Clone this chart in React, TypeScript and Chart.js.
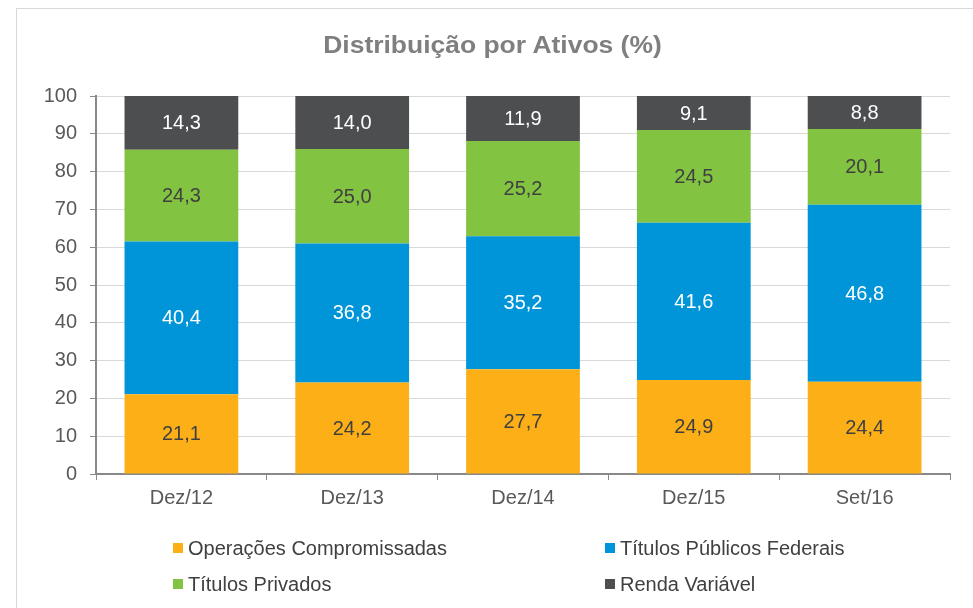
import React, { useEffect, useRef } from "react";
import { Chart, registerables } from "chart.js";

Chart.register(...registerables);

const categories = ["Dez/12", "Dez/13", "Dez/14", "Dez/15", "Set/16"];
const operacoes = [21.1, 24.2, 27.7, 24.9, 24.4];
const publicos = [40.4, 36.8, 35.2, 41.6, 46.8];
const privados = [24.3, 25.0, 25.2, 24.5, 20.1];
const renda = [14.3, 14.0, 11.9, 9.1, 8.8];
const yTicks = [0, 10, 20, 30, 40, 50, 60, 70, 80, 90, 100];

const seriesNames = [
  "Operações Compromissadas",
  "Títulos Públicos Federais",
  "Títulos Privados",
  "Renda Variável",
];
const seriesColors = ["#FCAF17", "#0095D9", "#82C341", "#4D4E50"];
const labelColors = ["#404040", "#FFFFFF", "#404040", "#FFFFFF"];

const FONT = "'Liberation Sans', Arial, sans-serif";

const dataLabelPlugin = {
  id: "dataLabels",
  afterDatasetsDraw(chart: any) {
    const ctx = chart.ctx;
    ctx.save();
    ctx.font = `20px ${FONT}`;
    ctx.textAlign = "center";
    ctx.textBaseline = "middle";
    chart.data.datasets.forEach((ds: any, di: number) => {
      const meta = chart.getDatasetMeta(di);
      meta.data.forEach((el: any, i: number) => {
        const v = ds.data[i];
        const p = el.getProps(["x", "y", "base"], true);
        const top = Math.max(p.y, chart.chartArea.top);
        const cy = (top + p.base) / 2;
        ctx.fillStyle = labelColors[di];
        ctx.fillText(v.toFixed(1).replace(".", ","), p.x, cy + 1);
      });
    });
    ctx.restore();
  },
};

export default function App() {
  const ref = useRef<HTMLCanvasElement | null>(null);

  useEffect(() => {
    if (!ref.current) return;
    const values = [operacoes, publicos, privados, renda];
    const chart = new Chart(ref.current, {
      type: "bar",
      data: {
        labels: categories,
        datasets: values.map((d, i) => ({
          label: seriesNames[i],
          data: d,
          backgroundColor: seriesColors[i],
          borderWidth: 0,
          categoryPercentage: 1,
          barPercentage: 0.666,
        })),
      },
      options: {
        responsive: false,
        animation: false,
        layout: { padding: { left: 0, right: 23, top: 96, bottom: 0 } },
        plugins: {
          legend: { display: false },
          title: { display: false },
          tooltip: { enabled: false },
        },
        scales: {
          x: {
            stacked: true,
            grid: {
              display: true,
              drawOnChartArea: false,
              drawTicks: true,
              tickLength: 6,
              tickColor: "#898989",
              tickWidth: 1,
              offset: true,
            },
            border: { color: "#898989", width: 2 },
            ticks: {
              color: "#595959",
              font: { family: FONT, size: 20 },
              padding: 6,
            },
            afterFit: (s: any) => {
              s.height = 134;
            },
          },
          y: {
            stacked: true,
            min: 0,
            max: 100,
            afterBuildTicks: (s: any) => {
              s.ticks = yTicks.map((v) => ({ value: v }));
            },
            grid: {
              color: "#D9D9D9",
              lineWidth: 1,
              tickLength: 6,
              tickColor: "#898989",
              tickWidth: 1,
            },
            border: { color: "#898989", width: 2 },
            ticks: {
              color: "#595959",
              font: { family: FONT, size: 20 },
              padding: 13,
            },
            afterFit: (s: any) => {
              s.width = 96;
            },
          },
        },
      },
      plugins: [dataLabelPlugin],
    });
    return () => chart.destroy();
  }, []);

  const legendPos = [
    { left: 173, top: 538 },
    { left: 605, top: 538 },
    { left: 173, top: 574 },
    { left: 605, top: 574 },
  ];

  return (
    <div
      style={{
        position: "fixed",
        left: 0,
        top: 0,
        width: 973,
        height: 608,
        overflow: "hidden",
        background: "#fff",
      }}
    >
      <div
        style={{
          position: "absolute",
          left: 16,
          top: 8,
          width: 1000,
          height: 700,
          border: "1px solid #D9D9D9",
        }}
      />
      <canvas
        ref={ref}
        width={973}
        height={608}
        style={{ position: "absolute", left: 0, top: 0, width: 973, height: 608 }}
      />
      <div
        style={{
          position: "absolute",
          left: 0,
          top: 34,
          width: 985,
          textAlign: "center",
          fontFamily: FONT,
          fontWeight: "bold",
          fontSize: 23,
          lineHeight: "23px",
          color: "#7F7F7F",
          transform: "scaleX(1.15)",
          transformOrigin: "492.5px 0",
          whiteSpace: "nowrap",
        }}
      >
        Distribuição por Ativos (%)
      </div>
      {seriesNames.map((name, i) => (
        <div
          key={name}
          style={{
            position: "absolute",
            left: legendPos[i].left,
            top: legendPos[i].top,
            fontFamily: FONT,
            fontSize: 20,
            lineHeight: "20px",
            color: "#404040",
            whiteSpace: "nowrap",
          }}
        >
          <span
            style={{
              position: "absolute",
              left: 0,
              top: 5,
              width: 10,
              height: 10,
              background: seriesColors[i],
            }}
          />
          <span style={{ marginLeft: 15 }}>{name}</span>
        </div>
      ))}
    </div>
  );
}
